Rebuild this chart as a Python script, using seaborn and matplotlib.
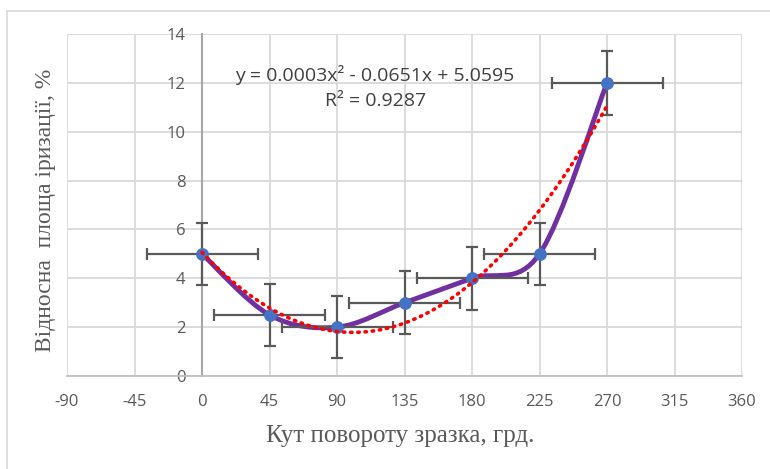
import numpy as np
import pandas as pd
import matplotlib
matplotlib.use("Agg")
import matplotlib.pyplot as plt
from matplotlib.path import Path
from matplotlib.patches import PathPatch, Rectangle
import seaborn as sns

# Data
angle = [0, 45, 90, 135, 180, 225, 270]
area = [5, 2.5, 2, 3, 4, 5, 12]
x_err = [37, 37, 37, 37, 37, 37, 37]
y_err = [1.28, 1.28, 1.28, 1.28, 1.28, 1.28, 1.3]
x_ticks = [-90, -45, 0, 45, 90, 135, 180, 225, 270, 315, 360]
y_ticks = [0, 2, 4, 6, 8, 10, 12, 14]
eq_text = "y = 0.0003x² - 0.0651x + 5.0595"
r2_text = "R² = 0.9287"
x_label = "Кут повороту зразка, грд."
y_label = "Відносна  площа іризації, %"

df = pd.DataFrame({"angle": angle, "area": area})

sns.set_style("white")
plt.rcParams['font.family'] = ['Open Sans', 'DejaVu Sans']
plt.rcParams['axes.unicode_minus'] = False

W, H = 770, 469
fig = plt.figure(figsize=(W / 100, H / 100), dpi=100)
L, R, T, B = 67, 742, 34, 376
ax = fig.add_axes([L / W, 1 - B / H, (R - L) / W, (B - T) / H])

# outer chart border
fig.add_artist(Rectangle((7 / W, -0.1), 1.2, 1 - 11 / H + 0.1, transform=fig.transFigure,
                         fill=False, edgecolor="#d9d9d9", linewidth=1.2, clip_on=False))

ax.set_xlim(-90, 360)
ax.set_ylim(0, 14)
ax.set_xticks(x_ticks)
ax.set_yticks(y_ticks)
ax.grid(True, color="#d9d9d9", linewidth=1.3)
ax.set_axisbelow(True)
for s in ["top", "right"]:
    ax.spines[s].set_visible(False)
ax.spines["left"].set_position(("data", 0))
ax.spines["left"].set_color("#a6a6a6")
ax.spines["left"].set_linewidth(1.5)
ax.spines["bottom"].set_color("#bfbfbf")
ax.spines["bottom"].set_linewidth(1.3)
ax.tick_params(axis="both", length=0, labelsize=12, labelcolor="#595959")
ax.tick_params(axis="y", pad=12)
ax.tick_params(axis="x", pad=13)

# smoothed line (Bezier, Excel-style)
pts = np.column_stack([angle, area]).astype(float)
n = len(pts)
verts = [tuple(pts[0])]
codes = [Path.MOVETO]
for i in range(n - 1):
    p0 = pts[max(i - 1, 0)]
    p1 = pts[i]
    p2 = pts[i + 1]
    p3 = pts[min(i + 2, n - 1)]
    c1 = p1 + (p2 - p0) / 6
    c2 = p2 - (p3 - p1) / 6
    verts += [tuple(c1), tuple(c2), tuple(p2)]
    codes += [Path.CURVE4] * 3
ax.add_patch(PathPatch(Path(verts, codes), facecolor="none", edgecolor="#7030A0",
                       linewidth=3.5, capstyle="round", joinstyle="round", zorder=3))

# error bars
ax.errorbar(angle, area, xerr=x_err, yerr=y_err, fmt="none", ecolor="#595959",
            elinewidth=1.6, capsize=4, capthick=1.6, zorder=4)

# markers
sns.scatterplot(data=df, x="angle", y="area", ax=ax, s=85, color="#4472C4",
                edgecolor="#4472C4", linewidth=0, zorder=5)

# polynomial trendline
coef = np.polyfit(angle, area, 2)
xs = np.linspace(min(angle), max(angle), 200)
ax.plot(xs, np.polyval(coef, xs), color="#FF0000", linewidth=2.6,
        linestyle=(0, (0.4, 1.6)), dash_capstyle="round", zorder=6)

ax.set_xlabel("")
ax.set_ylabel("")

# equation text
fig.text(375 / W, 1 - 75 / H, eq_text, ha="center", va="center", fontsize=14, color="#404040")
fig.text(376 / W, 1 - 101 / H, r2_text, ha="center", va="center", fontsize=14, color="#404040")

# axis titles
fig.text(400 / W, 1 - 436 / H, x_label, ha="center", va="center", fontsize=18,
         color="#595959", family=["Liberation Serif", "DejaVu Serif"])
fig.text(46 / W, 1 - 210 / H, y_label, ha="center", va="center", rotation=90, fontsize=17,
         color="#595959", family=["Liberation Serif", "DejaVu Serif"])

fig.savefig("out.png", dpi=100)
